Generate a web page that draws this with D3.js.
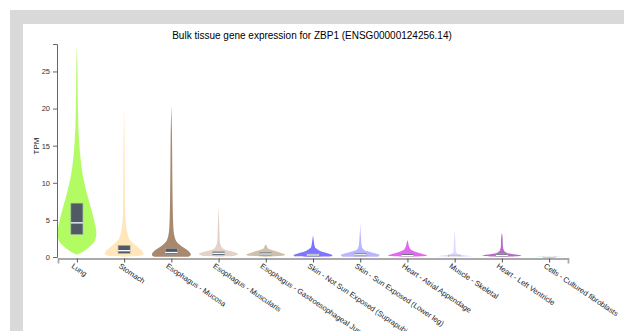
<!DOCTYPE html>
<html><head><meta charset="utf-8">
<script src="https://cdn.jsdelivr.net/npm/d3@7"></script>
<style>
html,body{margin:0;padding:0;background:#fff;}
svg{display:block;}
text{font-family:"Liberation Sans",Arial,Helvetica,sans-serif;}
</style></head>
<body>
<svg id="chart" width="624" height="331"></svg>
<script>
const tissues = ["Lung","Stomach","Esophagus - Mucosa","Esophagus - Muscularis","Esophagus - Gastroesophageal Junction","Skin - Not Sun Exposed (Suprapubic)","Skin - Sun Exposed (Lower leg)","Heart - Atrial Appendage","Muscle - Skeletal","Heart - Left Ventricle","Cells - Cultured fibroblasts"];
const colors = ["#b3fb62","#ffe6bb","#a8896e","#e4d2c8","#cec0a9","#7f74ff","#b9b6ff","#e268f0","#dfdcff","#b96ac9","#d9f2f8"];
const q1 = [3.05,0.5,0.35,0.27,0.23,0.12,0.14,0.1,0.05,0.1,0.01];
const medians = [4.6,0.85,0.6,0.5,0.4,0.27,0.3,0.18,0.12,0.2,0.02];
const q3 = [7.25,1.55,1.15,0.71,0.63,0.45,0.5,0.4,0.25,0.4,0.05];
// violin outline: TPM levels and relative half-widths (1 = widest) per tissue
const violinTPM = [
  [0.3,0.5,1.4,2.3,3.2,4.5,6.8,8.5,10,11.5,13.5,15.7,18,22.5,26,28.5],
  [0.05,0.12,0.4,0.75,1.4,2.3,3.2,4.5,6.8,10,13,16,19.8],
  [0.02,0.05,0.3,0.85,1.3,1.85,2.7,4.1,6.3,10,13,17,20.4],
  [0.05,0.13,0.36,0.58,0.94,1.39,2.3,4,6.77],
  [0.05,0.17,0.3,0.4,0.71,1.17,1.5,1.7],
  [0.02,0.1,0.2,0.4,0.7,0.94,1.3,2,2.96],
  [0.02,0.05,0.27,0.58,0.94,1.4,2.5,4.5],
  [0.02,0.17,0.5,0.94,1.3,1.8,2.29],
  [0.01,0.1,0.2,0.4,0.8,2,3.63],
  [0.01,0.17,0.5,0.9,1.5,2.5,3.27],
  [0,0.03,0.08,0.12]
];
const violinWidth = [
  [0,0.17,0.66,0.94,1.0,0.92,0.7,0.52,0.38,0.27,0.18,0.11,0.07,0.04,0.025,0],
  [0,0.72,1.0,0.94,0.67,0.3,0.17,0.09,0.05,0.04,0.03,0.025,0],
  [0,0.87,1.0,0.86,0.6,0.34,0.17,0.1,0.075,0.055,0.045,0.03,0],
  [0,0.77,1.0,0.9,0.38,0.15,0.06,0.04,0],
  [0,0.86,1.0,0.94,0.6,0.1,0.05,0],
  [0,0.95,1.0,0.86,0.46,0.28,0.1,0.05,0],
  [0,0.9,1.0,0.64,0.2,0.08,0.04,0],
  [0,1.0,0.64,0.2,0.1,0.05,0],
  [0,0.87,0.6,0.17,0.06,0.04,0],
  [0,1.0,0.31,0.1,0.05,0.04,0],
  [0,1.0,0.6,0]
];
const yTicks = [0,5,10,15,20,25];
const yMax = 28.7;

const svg = d3.select("#chart");
svg.append("rect").attr("x",10).attr("y",10).attr("width",614).attr("height",321).attr("fill","#d9d9d9");
svg.append("rect").attr("x",23).attr("y",24).attr("width",601).attr("height",307).attr("fill","#ffffff");

const x = d3.scalePoint().domain(tissues).range([58,568]).padding(0.4);
const y = d3.scaleLinear().domain([0,yMax]).range([257,44]);
const w = d3.scaleLinear().domain([0,1]).range([0,19.5]);

svg.append("text").attr("x",312).attr("y",39).attr("text-anchor","middle")
  .attr("font-size",10).attr("fill","#000")
  .text("Bulk tissue gene expression for ZBP1 (ENSG00000124256.14)");

// violins
tissues.forEach((t,i)=>{
  const pts = violinTPM[i].map((v,k)=>({v, r: violinWidth[i][k]}));
  const cx = x(t);
  const area = d3.area()
    .y(d=>y(d.v))
    .x0(d=>cx - w(d.r))
    .x1(d=>cx + w(d.r))
    .curve(d3.curveMonotoneY);
  svg.append("path").attr("d",area(pts)).attr("fill",colors[i]).attr("stroke","none");
  // box
  const bw = 12;
  const top = y(q3[i]), bot = y(q1[i]);
  svg.append("rect").attr("x",cx-bw/2).attr("y",top).attr("width",bw).attr("height",Math.max(bot-top,1))
    .attr("fill","#4f5a64").attr("stroke","#a0a6ab").attr("stroke-width",0.6);
  svg.append("line").attr("x1",cx-bw/2).attr("x2",cx+bw/2).attr("y1",y(medians[i])).attr("y2",y(medians[i]))
    .attr("stroke","#ffffff").attr("stroke-width",1.3);
});

// y axis
const yAxis = d3.axisLeft(y).tickValues(yTicks).tickSize(4).tickPadding(3);
const gy = svg.append("g").attr("transform","translate(57,0)").call(yAxis);
gy.selectAll("text").attr("font-size",7.5).attr("fill","#333");
gy.selectAll("path,line").attr("stroke","#666");
svg.append("text").attr("transform","translate(39,146) rotate(-90)").attr("text-anchor","middle")
  .attr("font-size",8).attr("fill","#111").text("TPM");

// x axis
const xAxis = d3.axisBottom(x).tickSize(4).tickSizeOuter(5).tickFormat("");
const gx = svg.append("g").attr("transform","translate(0,258.5)").call(xAxis);
gx.select("path.domain").attr("stroke","#aaa").attr("stroke-width",1.8);
gx.selectAll("line").attr("stroke","#555");
tissues.forEach(t=>{
  svg.append("text").attr("transform",`translate(${x(t)-3},263) rotate(34)`)
    .attr("font-size",7.5).attr("fill","#222").attr("dy","0.7em").text(t);
});
</script>
</body></html>
